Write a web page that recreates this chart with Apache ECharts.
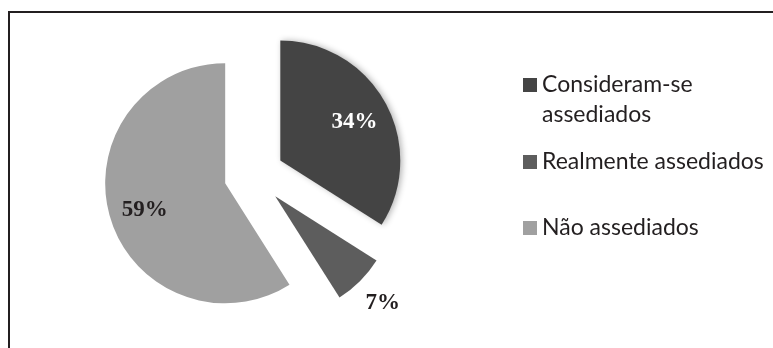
<!DOCTYPE html>
<html>
<head>
<meta charset="utf-8">
<script src="https://cdn.jsdelivr.net/npm/echarts@6/dist/echarts.min.js"></script>
<style>
	html,body{margin:0;padding:0;background:#fff;}
	#chart{width:773px;height:348px;}
</style>
</head>
<body>
<div id="chart"></div>
<script>
const categories = ['Consideram-se assediados', 'Realmente assediados', 'Não assediados'];
const percentValues = [34, 7, 59];
const sliceColors = ['#444444', '#5d5d5d', '#a0a0a0'];
const labelColors = ['#ffffff', '#231f20', '#231f20'];
// label nudges from the default "inside" spot
const labelNudge = [[19, -8], [63, 62], [-20, 9]];
const legendTops = [40, 147, 213];

let chart = echarts.init(document.getElementById('chart'));

let legends = categories.map(function (name, i) {
	return {
		data: [name],
		left: 523,
		top: legendTops[i],
		padding: 0,
		icon: 'rect',
		itemWidth: 14,
		itemHeight: 14,
		itemGap: 0,
		selectedMode: false,
		textStyle: {
			color: '#231f20',
			fontFamily: 'Lato, sans-serif',
			fontSize: 23,
			lineHeight: 30
		},
		formatter: function (n) {
			// first entry wraps; an empty first line keeps the square beside line one
			return i === 0 ? '\n' + n.replace('-se ', '-se\n') : n;
		}
	};
});

let opt = {
	animation: false,
	backgroundColor: '#fff',
	legend: legends,
	graphic: [{
		type: 'polyline',
		shape: { points: [[9, 348], [9, 12], [773, 12]] },
		style: { stroke: '#231f20', lineWidth: 2, fill: null }
	}],
	series: [{
		type: 'pie',
		center: [254, 175],
		radius: [0, 120],
		startAngle: 90,
		clockwise: true,
		selectedMode: 'multiple',
		selectedOffset: 30,
		avoidLabelOverlap: false,
		emphasis: { disabled: true },
		label: {
			show: true,
			position: 'inside',
			formatter: '{c}%',
			fontFamily: '"Liberation Serif", serif',
			fontWeight: 'bold',
			fontSize: 23
		},
		labelLine: { show: false },
		labelLayout: function (p) {
			return { dx: labelNudge[p.dataIndex][0], dy: labelNudge[p.dataIndex][1] };
		},
		data: categories.map(function (name, i) {
			let item = {
				name: name,
				value: percentValues[i],
				selected: true,
				itemStyle: { color: sliceColors[i] },
				select: { itemStyle: { color: sliceColors[i] } },
				label: { color: labelColors[i] }
			};
			if (i === 0) {
				item.itemStyle.shadowBlur = 6;
				item.itemStyle.shadowColor = 'rgba(0,0,0,0.3)';
				item.itemStyle.shadowOffsetX = 2;
			}
			return item;
		})
	}]
};
chart.setOption(opt);
</script>
</body>
</html>
